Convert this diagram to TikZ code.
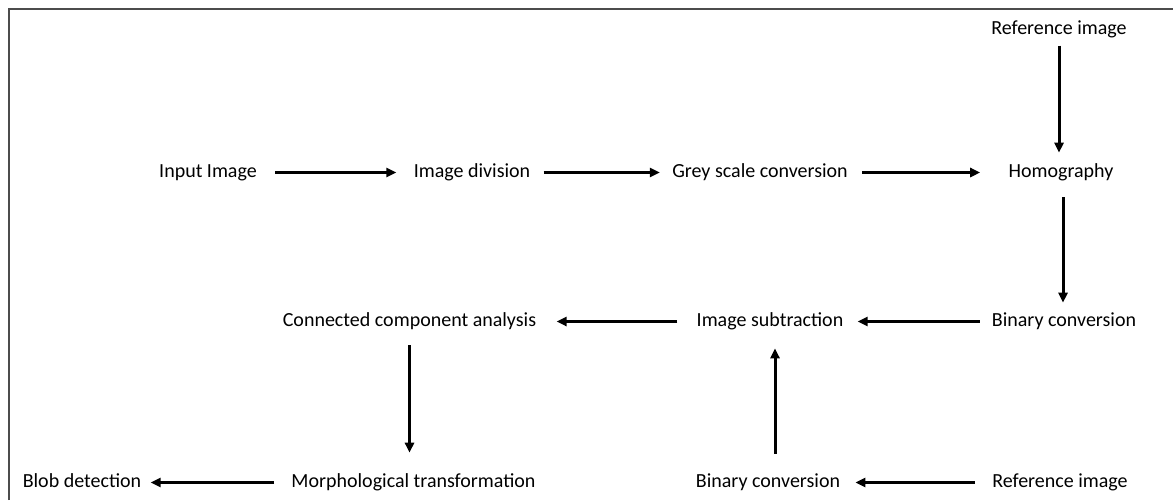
\documentclass[tikz,border=0pt]{standalone}
\usepackage{fontspec}
\setmainfont{Carlito}
\usetikzlibrary{arrows.meta}

\begin{document}
\begin{tikzpicture}[x=0.5pt,y=-0.5pt,
    stage/.style={inner sep=0pt,text height=7pt,text depth=2pt,
        font=\fontsize{10}{12}\selectfont},
    flow/.style={-{Triangle[length=5pt,width=4.5pt]},line width=1.5pt}]
\useasboundingbox (0,0) rectangle (1173,500);
\draw[black!70,line width=0.7pt] (9,500) -- (9,9) -- (1173,9);

% upper row
\node[stage] (reftop)     at (1059,29.5)  {Reference image};
\node[stage] (input)      at (208,172.5)  {Input Image};
\node[stage] (division)   at (472,172.5)  {Image division};
\node[stage] (grey)       at (760,172.5)  {Grey scale conversion};
\node[stage] (homography) at (1061,172.5) {Homography};

% middle row
\node[stage] (binarytop)   at (1064,321.5) {Binary conversion};
\node[stage] (subtraction) at (770,321.5)  {Image subtraction};
\node[stage] (connected)   at (409.5,321.5) {Connected component analysis};

% lower row
\node[stage] (blob)      at (82,482.5)   {Blob detection};
\node[stage] (morph)     at (413.5,482.5) {Morphological transformation};
\node[stage] (binarybot) at (768,482.5)  {Binary conversion};
\node[stage] (refbot)    at (1060,482.5) {Reference image};

\draw[flow,shorten <=9pt,shorten >=8.5pt] (input.east) -- (division.west);
\draw[flow,shorten <=6.5pt,shorten >=6pt] (division.east) -- (grey.west);
\draw[flow,shorten <=7pt,shorten >=14pt] (grey.east) -- (homography.west);
\draw[flow,shorten <=3.3pt,shorten >=5.2pt]
    (reftop.south) -- (reftop.south |- homography.north);
\draw[flow,shorten <=7.7pt,shorten >=4.7pt]
    ([xshift=1pt]homography.south) -- ([xshift=1pt]homography.south |- binarytop.north);
\draw[flow,shorten <=6pt,shorten >=7pt] (binarytop.west) -- (subtraction.east);
\draw[flow,shorten <=9.5pt,shorten >=10pt] (subtraction.west) -- (connected.east);
\draw[flow,shorten <=7.2pt,shorten >=10.2pt]
    (connected.south) -- (connected.south |- morph.north);
\draw[flow,shorten <=8.5pt,shorten >=4.5pt] (morph.west) -- (blob.east);
\draw[flow,shorten <=8.5pt,shorten >=7.5pt] (refbot.west) -- (binarybot.east);
\draw[flow,shorten <=9.7pt,shorten >=8.7pt]
    ([xshift=3.5pt]binarybot.north) -- ([xshift=3.5pt]binarybot.north |- subtraction.south);
\end{tikzpicture}
\end{document}
